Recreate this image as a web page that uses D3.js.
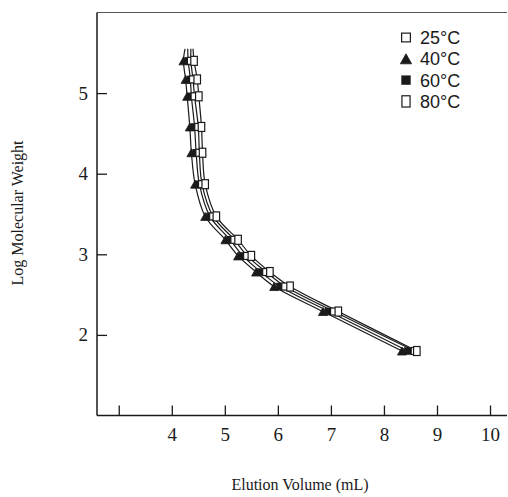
<!DOCTYPE html>
<html><head><meta charset="utf-8">
<script src="https://cdn.jsdelivr.net/npm/d3@7"></script>
<style>body{margin:0;background:#fff}svg{display:block}</style>
</head><body>
<svg id="c" width="508" height="497"></svg>
<script>
// Log molecular weight of the standards (one row per marker group)
const logMW = [5.40, 5.17, 4.96, 4.58, 4.26, 3.87, 3.47, 3.18, 2.98, 2.78, 2.60, 2.29, 1.80];
// Elution volumes (mL) per temperature
const vol25 = [4.36, 4.40, 4.43, 4.50, 4.52, 4.57, 4.78, 5.18, 5.42, 5.78, 6.14, 7.06, 8.58];
const vol40 = [4.22, 4.26, 4.29, 4.34, 4.37, 4.44, 4.63, 5.01, 5.25, 5.59, 5.93, 6.85, 8.34];
const vol60 = [4.31, 4.35, 4.37, 4.43, 4.46, 4.52, 4.72, 5.10, 5.34, 5.68, 6.04, 6.96, 8.45];
const vol80 = [4.42, 4.48, 4.51, 4.56, 4.58, 4.63, 4.84, 5.25, 5.50, 5.85, 6.23, 7.14, 8.62];
// curve extension above the highest standard
const topLogMW = 5.55;
const topVol = {"25":4.36, "40":4.25, "60":4.30, "80":4.40};
const seriesNames = ["25°C", "40°C", "60°C", "80°C"];
const xTicks = [3, 4, 5, 6, 7, 8, 9, 10];
const xTickLabels = ["", "4", "5", "6", "7", "8", "9", "10"];
const yTicks = [2, 3, 4, 5];

const svg = d3.select("#c");
const ink = "#1a1a1a";
const x = d3.scaleLinear().domain([2.59, 10.32]).range([97, 507]);
const y = d3.scaleLinear().domain([1, 6]).range([415.5, 12.5]);

const series = [
  {key:"40", name:seriesNames[1], vols:vol40, shape:"tri"},
  {key:"60", name:seriesNames[2], vols:vol60, shape:"fsq"},
  {key:"25", name:seriesNames[0], vols:vol25, shape:"osq"},
  {key:"80", name:seriesNames[3], vols:vol80, shape:"rect"}
];

// frame: top border
svg.append("line").attr("x1", x.range()[0]).attr("x2", x.range()[1])
  .attr("y1", y.range()[1]).attr("y2", y.range()[1])
  .attr("stroke", "#555").attr("stroke-width", 1.2);

// axes
const xAxis = d3.axisBottom(x).tickValues(xTicks).tickSize(-10).tickPadding(12)
  .tickFormat((d,i) => xTickLabels[i]);
const gx = svg.append("g").attr("transform", `translate(0,${y.range()[0]})`).call(xAxis);
const yAxis = d3.axisLeft(y).tickValues(yTicks).tickSize(-10).tickPadding(9).tickFormat(d3.format("d"));
const gy = svg.append("g").attr("transform", `translate(${x.range()[0]},0)`).call(yAxis);
[gx, gy].forEach(g => {
  g.select(".domain").attr("stroke", ink).attr("stroke-width", 1.5);
  g.selectAll(".tick line").attr("stroke", ink).attr("stroke-width", 1.3);
  g.selectAll(".tick text").attr("fill", ink).attr("font-family", "'Liberation Serif', serif").attr("font-size", 19);
});
gx.select(".domain").attr("d", `M${x.range()[0]},0H${x.range()[1]}`);
gy.select(".domain").attr("d", `M0,${y.range()[0]}V${y.range()[1]}`);

// lines
const line = d3.line().x(d => x(d[0])).y(d => y(d[1])).curve(d3.curveCatmullRom.alpha(0.5));
series.forEach(s => {
  const pts = [[topVol[s.key], topLogMW]].concat(s.vols.map((v,i) => [v, logMW[i]]));
  svg.append("path").attr("d", line(pts)).attr("fill", "none")
    .attr("stroke", ink).attr("stroke-width", 1.2);
});

function drawMarker(g, shape, cx, cy, scale) {
  const k = scale || 1;
  if (shape === "tri") {
    const w = 9*k, h = 8*k;
    g.append("path").attr("d", `M${cx},${cy-h/2}L${cx+w/2},${cy+h/2}L${cx-w/2},${cy+h/2}Z`)
      .attr("fill", ink).attr("stroke", ink).attr("stroke-width", 0.8);
  } else if (shape === "fsq") {
    const s = 7.5*k;
    g.append("rect").attr("x", cx-s/2).attr("y", cy-s/2).attr("width", s).attr("height", s)
      .attr("fill", ink);
  } else if (shape === "osq") {
    const s = 7*k;
    g.append("rect").attr("x", cx-s/2).attr("y", cy-s/2).attr("width", s).attr("height", s)
      .attr("fill", "#fff").attr("stroke", ink).attr("stroke-width", 1.2);
  } else {
    const w = 6.5*k, h = 9*k;
    g.append("rect").attr("x", cx-w/2).attr("y", cy-h/2).attr("width", w).attr("height", h)
      .attr("fill", "#fff").attr("stroke", ink).attr("stroke-width", 1.2);
  }
}

const mg = svg.append("g");
series.forEach(s => {
  s.vols.forEach((v,i) => drawMarker(mg, s.shape, x(v), y(logMW[i]), 1));
});

// legend
const legendOrder = [
  {name:seriesNames[0], shape:"osq"},
  {name:seriesNames[1], shape:"tri"},
  {name:seriesNames[2], shape:"fsq"},
  {name:seriesNames[3], shape:"rect"}
];
const lg = svg.append("g");
legendOrder.forEach((d,i) => {
  const cy = 37.5 + i*21.3;
  drawMarker(lg, d.shape, 406, cy, 1.25);
  lg.append("text").attr("x", 420).attr("y", cy).attr("dy", "0.36em")
    .attr("font-family", "'Liberation Sans', Arial, sans-serif").attr("font-size", 18)
    .attr("fill", ink).text(d.name);
});

// axis titles
svg.append("text").attr("x", 300).attr("y", 490).attr("text-anchor", "middle")
  .attr("font-family", "'Liberation Serif', serif").attr("font-size", 16).attr("fill", ink)
  .text("Elution Volume (mL)");
svg.append("text").attr("transform", "translate(23,213) rotate(-90)").attr("text-anchor", "middle")
  .attr("font-family", "'Liberation Serif', serif").attr("font-size", 16).attr("fill", ink)
  .text("Log Molecular Weight");
</script>
</body></html>
